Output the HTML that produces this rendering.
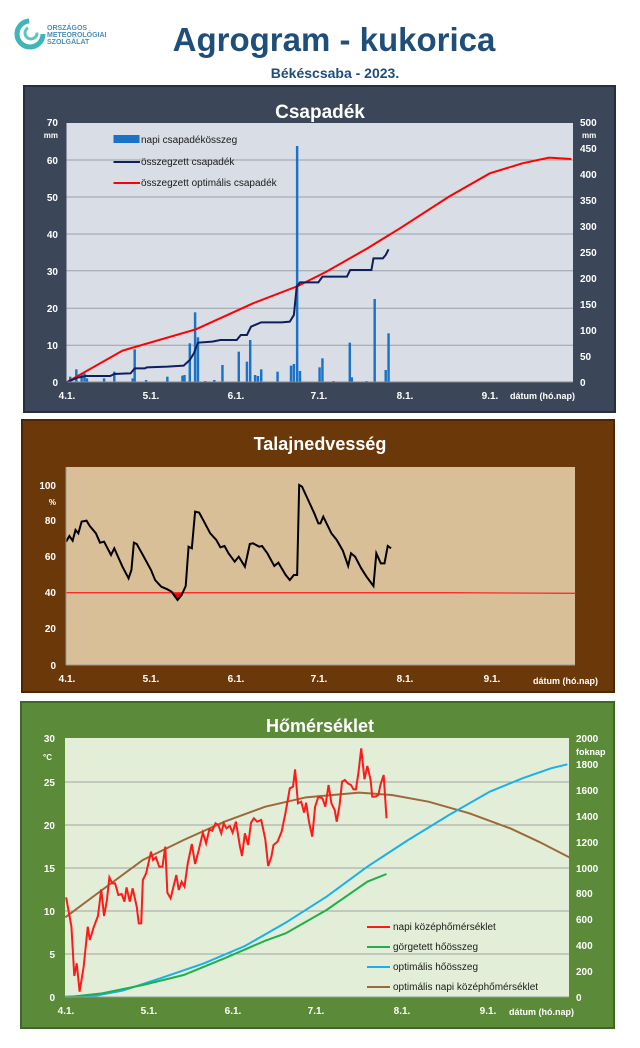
<!DOCTYPE html>
<html><head><meta charset="utf-8"><style>
html,body{margin:0;padding:0;background:#fff;}
svg{display:block;font-family:"Liberation Sans",sans-serif;}
</style></head><body>
<svg width="640" height="1048" viewBox="0 0 640 1048" xmlns="http://www.w3.org/2000/svg">
<!-- header -->
<circle cx="30" cy="34" r="13" fill="none" stroke="#3fb4b9" stroke-width="5" stroke-dasharray="60 25"/>
<circle cx="31" cy="33" r="6" fill="none" stroke="#5cc6c3" stroke-width="3" stroke-dasharray="25 12"/>
<text x="47" y="30" font-size="7" fill="#4a8fb8" font-weight="bold">ORSZÁGOS</text>
<text x="47" y="37" font-size="7" fill="#4a8fb8" font-weight="bold">METEOROLÓGIAI</text>
<text x="47" y="44" font-size="7" fill="#4a8fb8" font-weight="bold">SZOLGÁLAT</text>
<text x="334" y="51" font-size="33" font-weight="bold" fill="#1f4e79" text-anchor="middle">Agrogram - kukorica</text>
<text x="335" y="78" font-size="14" font-weight="bold" fill="#1f4e79" text-anchor="middle">Békéscsaba - 2023.</text>

<!-- PANEL 1 -->
<rect x="24" y="86" width="591" height="326" fill="#3b4658" stroke="#25303f" stroke-width="2"/>
<rect x="66.5" y="123" width="506.5" height="259" fill="#d8dde6"/>
<g stroke="#9aa0a8" stroke-width="1">
<line x1="66.5" x2="573" y1="345.3" y2="345.3"/><line x1="66.5" x2="573" y1="308.3" y2="308.3"/><line x1="66.5" x2="573" y1="270.7" y2="270.7"/><line x1="66.5" x2="573" y1="234" y2="234"/><line x1="66.5" x2="573" y1="197" y2="197"/><line x1="66.5" x2="573" y1="160" y2="160"/>
</g>
<g transform="scale(0.40816,0.33333)">
<g fill="#1a73c7">
<rect x="169" y="1130" width="6" height="17"/><rect x="184" y="1108" width="6" height="39"/><rect x="197" y="1122" width="6" height="25"/><rect x="204" y="1120" width="6" height="27"/><rect x="210" y="1135" width="6" height="12"/><rect x="252" y="1135" width="6" height="12"/><rect x="277" y="1115" width="6" height="32"/><rect x="322" y="1135" width="6" height="12"/><rect x="327" y="1048" width="6" height="99"/><rect x="355" y="1140" width="6" height="7"/><rect x="407" y="1130" width="6" height="17"/><rect x="444" y="1127" width="6" height="20"/><rect x="449" y="1125" width="6" height="22"/><rect x="462" y="1030" width="6" height="117"/><rect x="475" y="937" width="6" height="210"/><rect x="482" y="1012" width="6" height="135"/><rect x="500" y="1143" width="6" height="4"/><rect x="522" y="1140" width="6" height="7"/><rect x="542" y="1095" width="6" height="52"/><rect x="582" y="1055" width="6" height="92"/><rect x="602" y="1085" width="6" height="62"/><rect x="610" y="1020" width="6" height="127"/><rect x="622" y="1125" width="6" height="22"/><rect x="629" y="1128" width="6" height="19"/><rect x="637" y="1108" width="6" height="39"/><rect x="677" y="1115" width="6" height="32"/><rect x="710" y="1097" width="6" height="50"/><rect x="717" y="1092" width="6" height="55"/><rect x="725" y="438" width="6" height="709"/><rect x="732" y="1113" width="6" height="34"/><rect x="780" y="1102" width="6" height="45"/><rect x="787" y="1075" width="6" height="72"/><rect x="814" y="1143" width="6" height="4"/><rect x="854" y="1028" width="6" height="119"/><rect x="859" y="1132" width="6" height="15"/><rect x="895" y="1143" width="6" height="4"/><rect x="915" y="897" width="6" height="250"/><rect x="942" y="1110" width="6" height="37"/><rect x="949" y="1000" width="6" height="147"/>
</g>
<polyline fill="none" stroke="#ff0000" stroke-width="2" vector-effect="non-scaling-stroke" points="163,1147 300,1052 480,988 620,910 730,858 800,815 900,745 980,685 1100,590 1200,520 1280,490 1345,473 1400,477"/>
<polyline fill="none" stroke="#0d1f5c" stroke-width="2" vector-effect="non-scaling-stroke" points="163,1147 190,1133 210,1128 270,1128 280,1122 320,1120 330,1105 355,1105 360,1102 410,1100 450,1097 465,1080 475,1060 485,1028 520,1025 540,1020 580,1020 590,1005 605,1005 615,980 640,967 690,967 710,965 720,945 727,860 735,847 780,847 790,830 850,830 858,810 910,810 915,775 938,775 945,765 952,748"/>
</g>
<line x1="66.5" x2="573" y1="382" y2="382" stroke="#888" stroke-width="1"/>
<text x="320" y="118" font-size="19" font-weight="bold" fill="#fff" text-anchor="middle">Csapadék</text>
<g font-size="10" font-weight="bold" fill="#fff" text-anchor="end">
<text x="58" y="126">70</text><text x="58" y="138" font-size="8">mm</text><text x="58" y="164">60</text><text x="58" y="201">50</text><text x="58" y="238">40</text><text x="58" y="275">30</text><text x="58" y="312">20</text><text x="58" y="349">10</text><text x="58" y="386">0</text>
</g>
<g font-size="10" font-weight="bold" fill="#fff">
<text x="580" y="126">500</text><text x="582" y="138" font-size="8">mm</text><text x="580" y="152">450</text><text x="580" y="178">400</text><text x="580" y="204">350</text><text x="580" y="230">300</text><text x="580" y="256">250</text><text x="580" y="282">200</text><text x="580" y="308">150</text><text x="580" y="334">100</text><text x="580" y="360">50</text><text x="580" y="386">0</text>
</g>
<g font-size="10" font-weight="bold" fill="#fff" text-anchor="middle">
<text x="67" y="399">4.1.</text><text x="151" y="399">5.1.</text><text x="236" y="399">6.1.</text><text x="319" y="399">7.1.</text><text x="405" y="399">8.1.</text><text x="490" y="399">9.1.</text>
</g>
<text x="575" y="399" font-size="9" font-weight="bold" fill="#fff" text-anchor="end">dátum (hó.nap)</text>
<g font-size="10" fill="#1a1a1a">
<rect x="113.5" y="135" width="26" height="8" fill="#1a73c7"/><text x="141" y="143">napi csapadékösszeg</text>
<line x1="113.5" x2="140" y1="162" y2="162" stroke="#0d1f5c" stroke-width="2"/><text x="141" y="165">összegzett csapadék</text>
<line x1="113.5" x2="140" y1="183" y2="183" stroke="#ff0000" stroke-width="2"/><text x="141" y="186">összegzett optimális  csapadék</text>
</g>

<!-- PANEL 2 -->
<rect x="22" y="420" width="592" height="272" fill="#6b380a" stroke="#4a2606" stroke-width="2"/>
<rect x="66" y="467" width="509" height="198" fill="#d9bf98"/>
<g transform="translate(0,420) scale(0.40816,0.33333)">
<polygon points="420,515 437,540 446,518" fill="#ff0000"/>
<polyline fill="none" stroke="#ff2a2a" stroke-width="1.3" vector-effect="non-scaling-stroke" points="162,518 1100,518 1410,520"/>
<polyline fill="none" stroke="#000" stroke-width="2" vector-effect="non-scaling-stroke" points="162,365 170,348 178,362 185,330 192,340 200,305 212,302 220,318 235,340 245,368 255,365 272,405 280,385 300,440 315,475 322,450 328,368 335,372 350,405 370,450 380,480 395,500 410,508 420,515 435,540 445,525 455,498 462,380 470,385 478,275 488,278 500,305 515,340 530,360 540,382 550,378 560,400 575,425 585,410 600,440 612,372 620,370 635,380 642,378 655,400 672,438 682,428 700,465 710,480 720,465 728,465 733,195 740,200 755,240 770,280 780,310 785,310 792,290 800,310 812,340 825,360 840,392 853,438 860,400 870,410 885,445 898,470 915,498 922,400 933,430 942,430 950,378 958,385"/>
</g>
<line x1="66" x2="575" y1="665" y2="665" stroke="#999" stroke-width="1"/>
<line x1="66" x2="66" y1="467" y2="665" stroke="#999" stroke-width="1"/>
<text x="320" y="450" font-size="18" font-weight="bold" fill="#fff" text-anchor="middle">Talajnedvesség</text>
<g font-size="10" font-weight="bold" fill="#fff" text-anchor="end">
<text x="56" y="489">100</text><text x="56" y="505" font-size="8">%</text><text x="56" y="524">80</text><text x="56" y="560">60</text><text x="56" y="596">40</text><text x="56" y="632">20</text><text x="56" y="669">0</text>
</g>
<g font-size="10" font-weight="bold" fill="#fff" text-anchor="middle">
<text x="67" y="682">4.1.</text><text x="151" y="682">5.1.</text><text x="236" y="682">6.1.</text><text x="319" y="682">7.1.</text><text x="405" y="682">8.1.</text><text x="492" y="682">9.1.</text>
</g>
<text x="598" y="684" font-size="9" font-weight="bold" fill="#fff" text-anchor="end">dátum (hó.nap)</text>

<!-- PANEL 3 -->
<rect x="21" y="702" width="593" height="326" fill="#5b8a39" stroke="#3f6626" stroke-width="2"/>
<rect x="65" y="738" width="504" height="259" fill="#e3eed8"/>
<g stroke="#a0a4a0" stroke-width="1">
<line x1="65" x2="569" y1="954" y2="954"/><line x1="65" x2="569" y1="911" y2="911"/><line x1="65" x2="569" y1="868" y2="868"/><line x1="65" x2="569" y1="825" y2="825"/><line x1="65" x2="569" y1="782" y2="782"/>
</g>
<g transform="translate(0,700) scale(0.40816,0.33333)">
<polyline fill="none" stroke="#9a6a3c" stroke-width="2" vector-effect="non-scaling-stroke" points="160,652 250,570 350,480 450,420 550,365 650,320 750,292 880,278 960,285 1050,305 1150,340 1250,385 1320,425 1395,472"/>
<polyline fill="none" stroke="#1ab0ea" stroke-width="2" vector-effect="non-scaling-stroke" points="160,890 230,888 300,872 400,832 500,790 600,738 700,668 800,590 900,500 1000,420 1100,345 1200,275 1280,235 1350,205 1390,193"/>
<polyline fill="none" stroke="#1fb04a" stroke-width="2" vector-effect="non-scaling-stroke" points="160,892 250,880 350,855 450,825 550,775 650,722 700,700 800,630 900,545 947,522"/>
<polyline fill="none" stroke="#ff1a1a" stroke-width="2" vector-effect="non-scaling-stroke" points="162,592 175,680 182,828 188,790 195,875 205,800 215,680 220,720 230,680 240,648 248,568 255,648 262,600 268,532 275,550 282,550 290,585 298,582 305,605 310,562 318,605 325,565 335,620 340,670 346,670 350,540 358,520 370,455 375,480 382,472 390,500 398,500 405,440 410,578 418,595 432,525 438,570 445,545 452,560 460,490 470,432 478,492 487,450 497,398 505,430 513,388 520,392 528,370 535,375 542,400 548,370 555,385 563,378 570,398 578,365 588,440 593,468 600,400 608,435 615,368 622,355 630,365 640,360 650,418 657,498 665,470 670,435 680,425 690,395 700,335 710,265 718,260 723,208 730,310 738,305 745,338 750,308 757,365 765,410 772,320 780,290 790,295 797,320 805,255 812,310 820,330 825,365 832,315 838,245 845,240 852,250 860,255 866,268 872,268 878,220 885,145 893,238 900,198 908,240 912,290 920,290 927,285 932,255 940,225 947,355"/>
</g>
<line x1="65" x2="569" y1="997" y2="997" stroke="#999" stroke-width="1"/>
<text x="320" y="732" font-size="18" font-weight="bold" fill="#fff" text-anchor="middle">Hőmérséklet</text>
<g font-size="10" font-weight="bold" fill="#fff" text-anchor="end">
<text x="55" y="742">30</text><text x="52" y="760" font-size="8">°C</text><text x="55" y="786">25</text><text x="55" y="829">20</text><text x="55" y="872">15</text><text x="55" y="915">10</text><text x="55" y="958">5</text><text x="55" y="1001">0</text>
</g>
<g font-size="10" font-weight="bold" fill="#fff">
<text x="576" y="742">2000</text><text x="576" y="755" font-size="9">foknap</text><text x="576" y="768">1800</text><text x="576" y="794">1600</text><text x="576" y="820">1400</text><text x="576" y="846">1200</text><text x="576" y="872">1000</text><text x="576" y="897">800</text><text x="576" y="923">600</text><text x="576" y="949">400</text><text x="576" y="975">200</text><text x="576" y="1001">0</text>
</g>
<g font-size="10" font-weight="bold" fill="#fff" text-anchor="middle">
<text x="66" y="1014">4.1.</text><text x="149" y="1014">5.1.</text><text x="233" y="1014">6.1.</text><text x="316" y="1014">7.1.</text><text x="402" y="1014">8.1.</text><text x="488" y="1014">9.1.</text>
</g>
<text x="574" y="1015" font-size="9" font-weight="bold" fill="#fff" text-anchor="end">dátum (hó.nap)</text>
<g font-size="10" fill="#1a1a1a">
<line x1="367" x2="390" y1="927" y2="927" stroke="#ff1a1a" stroke-width="2"/><text x="393" y="930">napi középhőmérséklet</text>
<line x1="367" x2="390" y1="947" y2="947" stroke="#1fb04a" stroke-width="2"/><text x="393" y="950">görgetett hőösszeg</text>
<line x1="367" x2="390" y1="967" y2="967" stroke="#1ab0ea" stroke-width="2"/><text x="393" y="970">optimális hőösszeg</text>
<line x1="367" x2="390" y1="987" y2="987" stroke="#9a6a3c" stroke-width="2"/><text x="393" y="990">optimális napi középhőmérséklet</text>
</g>
</svg>
</body></html>
